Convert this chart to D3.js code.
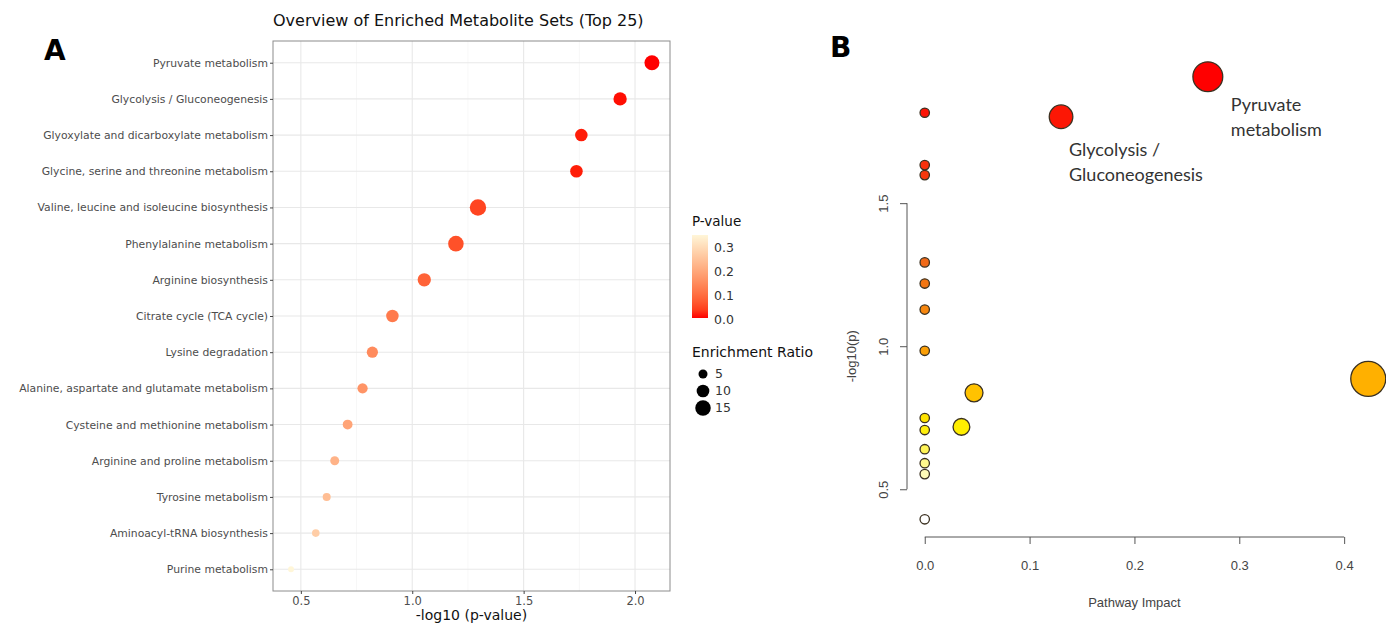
<!DOCTYPE html>
<html>
<head>
<meta charset="utf-8">
<script src="https://cdn.jsdelivr.net/npm/d3@7"></script>
<style>
  body { margin: 0; background: #fff; }
  svg { display: block; }
</style>
</head>
<body>
<div id="chart"></div>
<script>
// ---- panel A: enrichment overview ----
const categories = [
  'Pyruvate metabolism',
  'Glycolysis / Gluconeogenesis',
  'Glyoxylate and dicarboxylate metabolism',
  'Glycine, serine and threonine metabolism',
  'Valine, leucine and isoleucine biosynthesis',
  'Phenylalanine metabolism',
  'Arginine biosynthesis',
  'Citrate cycle (TCA cycle)',
  'Lysine degradation',
  'Alanine, aspartate and glutamate metabolism',
  'Cysteine and methionine metabolism',
  'Arginine and proline metabolism',
  'Tyrosine metabolism',
  'Aminoacyl-tRNA biosynthesis',
  'Purine metabolism'
];
const negLog10P = [2.076, 1.933, 1.759, 1.737, 1.295, 1.196, 1.054, 0.911, 0.821, 0.777, 0.710, 0.652, 0.616, 0.567, 0.456];
const enrichmentRatio = [14, 11, 9.8, 9.8, 16.7, 15, 11, 9.7, 7.8, 6.5, 6, 5, 4, 3.6, 2.2];
const xTicksA = [0.5, 1.0, 1.5, 2.0];
const pLegendTicks = [0.0, 0.1, 0.2, 0.3];
const ratioLegend = [5, 10, 15];

// ---- panel B: pathway impact ----
const pathwayImpact = [0.27, 0.13, 0, 0, 0, 0, 0, 0, 0, 0.047, 0.423, 0.035, 0, 0, 0, 0, 0, 0];
const pathwayLogP = [1.942, 1.802, 1.816, 1.633, 1.598, 1.293, 1.219, 1.128, 0.984, 0.837, 0.886, 0.718, 0.749, 0.707, 0.640, 0.591, 0.553, 0.395];
const pathwayLabels = ['Pyruvate metabolism', 'Glycolysis / Gluconeogenesis'];
const xTicksB = [0, 0.1, 0.2, 0.3, 0.4];
const yTicksB = [0.5, 1.0, 1.5];

const width = 1386;
const height = 623;

const svg = d3.select('#chart').append('svg')
  .attr('width', width)
  .attr('height', height);

svg.append('rect').attr('width', width).attr('height', height).attr('fill', '#fff');

const ggFont = '"DejaVu Sans", sans-serif';
const rFont = '"Liberation Sans", Arial, sans-serif';

drawPanelA();
drawPanelB();

function drawPanelA() {
  const left = 273, right = 670, top = 41, bottom = 591;

  const xMin = d3.min(negLog10P), xMax = d3.max(negLog10P);
  const pad = (xMax - xMin) * 0.05;
  const x = d3.scaleLinear().domain([xMin - pad, xMax + pad]).range([left, right]);
  const y = d3.scalePoint().domain(categories).range([top, bottom]).padding(0.6);

  const pValues = negLog10P.map(v => Math.pow(10, -v));
  const pMin = d3.min(pValues), pMax = d3.max(pValues);
  const color = d3.scaleLinear().domain([pMin, pMax])
    .range(['#ff0000', '#fff6d8'])
    .interpolate(d3.interpolateLab);
  const size = d3.scaleSqrt().domain([0, d3.max(enrichmentRatio)]).range([0, 8.2]);

  const g = svg.append('g').attr('class', 'panel-a');

  // grid
  const minor = d3.range(0.25, 2.5, 0.5).filter(v => v > x.domain()[0] && v < x.domain()[1]);
  g.append('g').selectAll('line').data(minor).join('line')
    .attr('x1', d => x(d)).attr('x2', d => x(d))
    .attr('y1', top).attr('y2', bottom)
    .attr('stroke', '#f2f2f2').attr('stroke-width', 0.6);
  g.append('g').selectAll('line').data(xTicksA).join('line')
    .attr('x1', d => x(d)).attr('x2', d => x(d))
    .attr('y1', top).attr('y2', bottom)
    .attr('stroke', '#e8e8e8').attr('stroke-width', 1.1);
  g.append('g').selectAll('line').data(categories).join('line')
    .attr('x1', left).attr('x2', right)
    .attr('y1', d => y(d)).attr('y2', d => y(d))
    .attr('stroke', '#e8e8e8').attr('stroke-width', 1.1);

  // points
  const rows = categories.map((c, i) => ({c, v: negLog10P[i], p: pValues[i], er: enrichmentRatio[i]}));
  g.append('g').selectAll('circle').data(rows).join('circle')
    .attr('cx', d => x(d.v))
    .attr('cy', d => y(d.c))
    .attr('r', d => size(d.er))
    .attr('fill', d => color(d.p));

  // border
  g.append('rect')
    .attr('x', left).attr('y', top)
    .attr('width', right - left).attr('height', bottom - top)
    .attr('fill', 'none').attr('stroke', '#8c8c8c').attr('stroke-width', 1);

  // y axis
  const yAxis = g.append('g').attr('transform', `translate(${left},0)`)
    .call(d3.axisLeft(y).tickSize(3).tickPadding(2));
  yAxis.select('.domain').remove();
  yAxis.selectAll('line').attr('stroke', '#444');
  yAxis.selectAll('text').attr('font-family', ggFont).attr('font-size', 10.8).attr('fill', '#4d4d4d');

  // x axis
  const xAxis = g.append('g').attr('transform', `translate(0,${bottom})`)
    .call(d3.axisBottom(x).tickValues(xTicksA).tickFormat(d3.format('.1f')).tickSize(3).tickPadding(3));
  xAxis.select('.domain').remove();
  xAxis.selectAll('line').attr('stroke', '#444');
  xAxis.selectAll('text').attr('font-family', ggFont).attr('font-size', 11.5).attr('fill', '#4d4d4d');

  g.append('text')
    .attr('x', (left + right) / 2).attr('y', 620)
    .attr('text-anchor', 'middle')
    .attr('font-family', ggFont).attr('font-size', 14).attr('fill', '#111')
    .text('-log10 (p-value)');

  g.append('text')
    .attr('x', left).attr('y', 26)
    .attr('font-family', ggFont).attr('font-size', 16).attr('fill', '#111')
    .text('Overview of Enriched Metabolite Sets (Top 25)');

  g.append('text')
    .attr('x', 44).attr('y', 60)
    .attr('font-family', '"DejaVu Sans", sans-serif').attr('font-weight', 'bold')
    .attr('font-size', 28).attr('fill', '#000')
    .text('A');

  // legend: P-value colorbar
  const legX = 692, barW = 16, barTop = 235, barBottom = 318;
  const pLeg = d3.scaleLinear().domain([pMin, pMax]).range([barBottom, barTop]);
  const defs = svg.append('defs');
  const grad = defs.append('linearGradient').attr('id', 'pgrad')
    .attr('x1', 0).attr('y1', 1).attr('x2', 0).attr('y2', 0);
  d3.range(0, 1.0001, 0.1).forEach(t => {
    grad.append('stop').attr('offset', t)
      .attr('stop-color', color(pMin + t * (pMax - pMin)));
  });
  g.append('text').attr('x', legX).attr('y', 226)
    .attr('font-family', ggFont).attr('font-size', 13.5).attr('fill', '#111')
    .text('P-value');
  g.append('rect').attr('x', legX).attr('y', barTop)
    .attr('width', barW).attr('height', barBottom - barTop)
    .attr('fill', 'url(#pgrad)');
  g.append('g').selectAll('text').data(pLegendTicks).join('text')
    .attr('x', legX + barW + 6).attr('y', d => pLeg(d))
    .attr('dy', '0.35em')
    .attr('font-family', ggFont).attr('font-size', 12.5).attr('fill', '#333')
    .text(d3.format('.1f'));

  // legend: enrichment ratio
  g.append('text').attr('x', legX).attr('y', 357)
    .attr('font-family', ggFont).attr('font-size', 14).attr('fill', '#111')
    .text('Enrichment Ratio');
  const sizeRows = g.append('g').selectAll('g').data(ratioLegend).join('g')
    .attr('transform', (d, i) => `translate(${legX + 11},${374 + i * 17})`);
  sizeRows.append('circle').attr('r', d => size(d)).attr('fill', '#000');
  sizeRows.append('text').attr('x', 12).attr('dy', '0.35em')
    .attr('font-family', ggFont).attr('font-size', 12.5).attr('fill', '#333')
    .text(d => d);
}

function drawPanelB() {
  const left = 907, right = 1386, top = 59, bottom = 537;

  const iMin = d3.min(pathwayImpact), iMax = d3.max(pathwayImpact);
  const iPad = (iMax - iMin) * 0.04;
  const x = d3.scaleLinear().domain([iMin - iPad, iMax + iPad]).range([left, right]);
  const yMin = d3.min(pathwayLogP), yMax = d3.max(pathwayLogP);
  const yPad = (yMax - yMin) * 0.04;
  const y = d3.scaleLinear().domain([yMin - yPad, yMax + yPad]).range([bottom, top]);

  const color = d3.scaleLinear()
    .domain([0.395, 0.553, 0.718, 0.886, 1.3, 1.942])
    .range(['#ffffff', '#fffbb8', '#ffee00', '#ffb000', '#f06818', '#ff0000']);
  const size = d3.scaleSqrt().domain([0, iMax]).range([4.7, 17.5]);

  const g = svg.append('g').attr('class', 'panel-b');

  const pts = pathwayImpact.map((v, i) => ({impact: v, logp: pathwayLogP[i], label: pathwayLabels[i]}));
  g.append('g').selectAll('circle').data(pts).join('circle')
    .attr('cx', d => x(d.impact))
    .attr('cy', d => y(d.logp))
    .attr('r', d => size(d.impact))
    .attr('fill', d => color(d.logp))
    .attr('stroke', '#3a3020')
    .attr('stroke-width', 1.3);

  // annotations
  const offsets = {
    'Pyruvate metabolism': [23, 28],
    'Glycolysis / Gluconeogenesis': [8, 33]
  };
  const labelled = pts.filter(d => d.label);
  const lab = g.append('g').selectAll('text').data(labelled).join('text')
    .attr('x', d => x(d.impact) + offsets[d.label][0])
    .attr('y', d => y(d.logp) + offsets[d.label][1])
    .attr('font-family', 'Lato, "Open Sans", sans-serif')
    .attr('font-size', 18).attr('fill', '#333');
  lab.each(function(d) {
    const words = d.label === 'Pyruvate metabolism' ? ['Pyruvate', 'metabolism'] : ['Glycolysis /', 'Gluconeogenesis'];
    const t = d3.select(this);
    words.forEach((w, i) => {
      t.append('tspan').attr('x', t.attr('x')).attr('dy', i === 0 ? '0.35em' : '1.4em').text(w);
    });
  });

  // y axis
  const yAxis = g.append('g').attr('transform', `translate(${left},0)`)
    .call(d3.axisLeft(y).tickValues(yTicksB).tickFormat(d3.format('.1f')).tickSize(7).tickPadding(0));
  yAxis.select('.domain').remove();
  yAxis.append('line')
    .attr('y1', y(yTicksB[0])).attr('y2', y(yTicksB[yTicksB.length - 1]))
    .attr('stroke', '#555');
  yAxis.selectAll('.tick line').attr('stroke', '#555');
  yAxis.selectAll('.tick text')
    .attr('font-family', rFont).attr('font-size', 13).attr('fill', '#444')
    .attr('x', 0).attr('dy', 0)
    .attr('text-anchor', 'middle')
    .attr('transform', 'translate(-24,0) rotate(-90)')
    .attr('dominant-baseline', 'central');

  // x axis
  const xAxis = g.append('g').attr('transform', `translate(0,${bottom})`)
    .call(d3.axisBottom(x).tickValues(xTicksB).tickFormat(d3.format('.1f')).tickSize(7).tickPadding(17));
  xAxis.select('.domain').remove();
  xAxis.append('line')
    .attr('x1', x(xTicksB[0])).attr('x2', x(xTicksB[xTicksB.length - 1]))
    .attr('stroke', '#555');
  xAxis.selectAll('.tick line').attr('stroke', '#555');
  xAxis.selectAll('.tick text')
    .attr('font-family', rFont).attr('font-size', 13).attr('fill', '#444');

  g.append('text')
    .attr('x', (x(0) + x(0.4)) / 2).attr('y', 607)
    .attr('text-anchor', 'middle')
    .attr('font-family', rFont).attr('font-size', 13).attr('fill', '#444')
    .text('Pathway Impact');

  g.append('text')
    .attr('transform', `translate(856,${(y(0.5) + y(1.5)) / 2 + 10}) rotate(-90)`)
    .attr('text-anchor', 'middle')
    .attr('font-family', rFont).attr('font-size', 13).attr('fill', '#444')
    .text('-log10(p)');

  g.append('text')
    .attr('x', 830).attr('y', 57)
    .attr('font-family', '"DejaVu Sans", sans-serif').attr('font-weight', 'bold')
    .attr('font-size', 28).attr('fill', '#000')
    .text('B');
}
</script>
</body>
</html>
